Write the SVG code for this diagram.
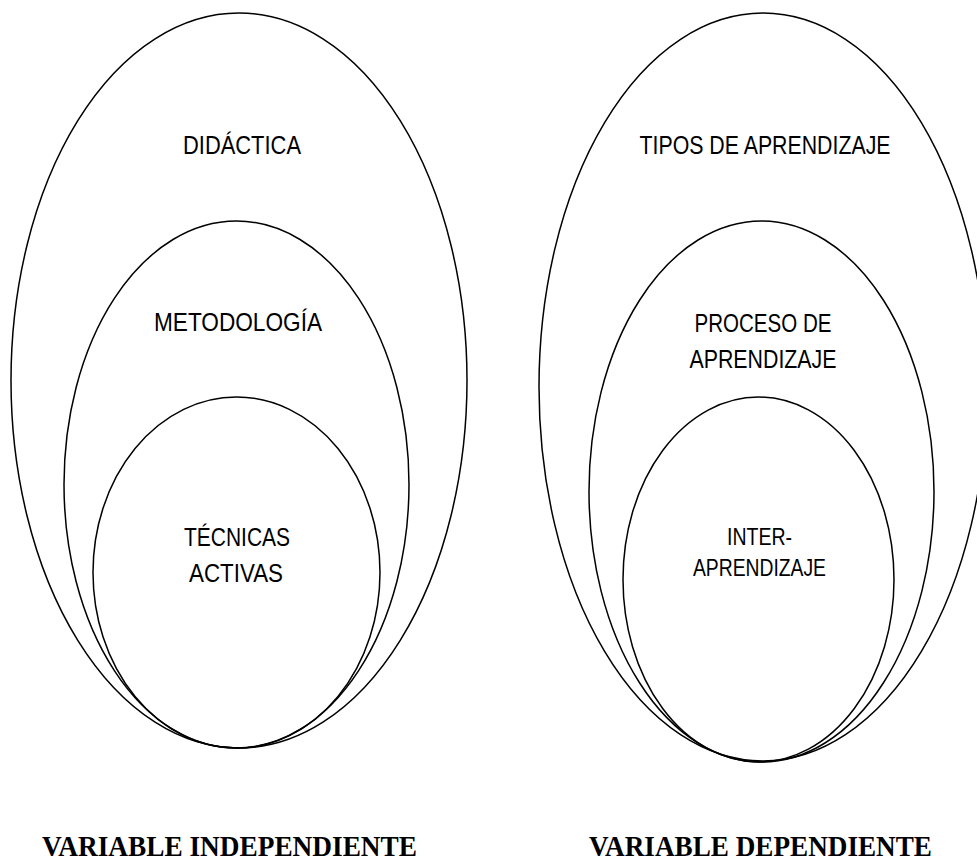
<svg xmlns="http://www.w3.org/2000/svg" width="977" height="861" viewBox="0 0 977 861">
<style>
.e{fill:none;stroke:#000;stroke-width:1.5}
.t{font-family:"Liberation Sans",Arial,sans-serif;font-size:26px;fill:#000;text-anchor:middle}
.s{font-size:24px}
.b{font-family:"Liberation Serif","Times New Roman",serif;font-weight:bold;font-size:29px;fill:#000}
</style>
<rect width="977" height="861" fill="#fff"/>
<g id="didactica">
<ellipse class="e" cx="239" cy="380.5" rx="228" ry="367.5"/>
<text class="t" x="242" y="154" textLength="118" lengthAdjust="spacingAndGlyphs">DIDÁCTICA</text>
</g>
<g id="metodologia">
<ellipse class="e" cx="236.5" cy="484.5" rx="172.5" ry="263.5"/>
<text class="t" x="238" y="331" textLength="168" lengthAdjust="spacingAndGlyphs">METODOLOGÍA</text>
</g>
<g id="tecnicas">
<ellipse class="e" cx="236.5" cy="572.5" rx="143.5" ry="175.5"/>
<text class="t" x="237" y="546" textLength="106" lengthAdjust="spacingAndGlyphs">TÉCNICAS</text>
<text class="t" x="236" y="582" textLength="94" lengthAdjust="spacingAndGlyphs">ACTIVAS</text>
</g>
<g id="tipos">
<ellipse class="e" cx="763" cy="387" rx="224" ry="374"/>
<text class="t" x="765" y="154" textLength="251" lengthAdjust="spacingAndGlyphs">TIPOS DE APRENDIZAJE</text>
</g>
<g id="proceso">
<ellipse class="e" cx="761.5" cy="491.5" rx="172.5" ry="270.5"/>
<text class="t" x="763" y="332" textLength="137" lengthAdjust="spacingAndGlyphs">PROCESO DE</text>
<text class="t" x="763" y="368" textLength="147" lengthAdjust="spacingAndGlyphs">APRENDIZAJE</text>
</g>
<g id="inter">
<ellipse class="e" cx="758.5" cy="579.5" rx="135.5" ry="182.5"/>
<text class="t s" x="759.5" y="545" textLength="65" lengthAdjust="spacingAndGlyphs">INTER-</text>
<text class="t s" x="759.5" y="576" textLength="133" lengthAdjust="spacingAndGlyphs">APRENDIZAJE</text>
</g>
<g id="connectors"></g>
<g id="labels">
<text class="b" x="42" y="856" textLength="375" lengthAdjust="spacingAndGlyphs">VARIABLE  INDEPENDIENTE</text>
<text class="b" x="589" y="856" textLength="343" lengthAdjust="spacingAndGlyphs">VARIABLE DEPENDIENTE</text>
</g>
</svg>
